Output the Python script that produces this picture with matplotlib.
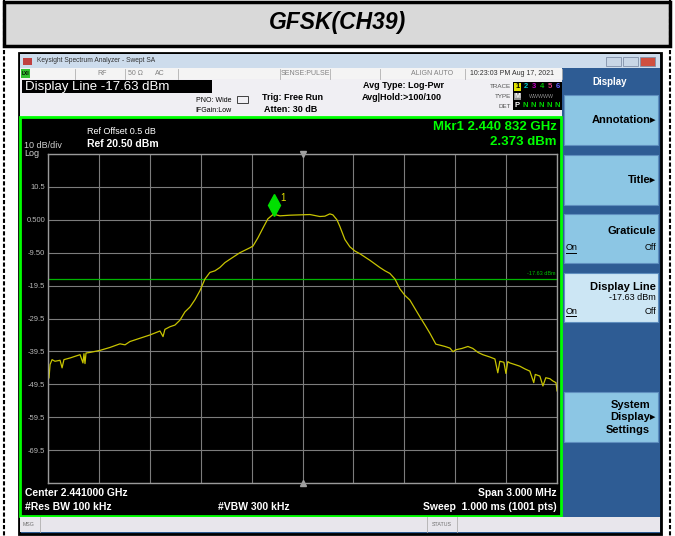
import matplotlib
matplotlib.use('Agg')
import matplotlib.pyplot as plt
from matplotlib.patches import Rectangle
from matplotlib.transforms import offset_copy

plt.rcParams['font.family'] = ['Liberation Sans', 'DejaVu Sans']

# trace (MHz, dBm)
freq_mhz = [2439.500, 2439.506, 2439.512, 2439.524, 2439.541, 2439.571, 2439.583, 2439.594,
            2439.630, 2439.659, 2439.689, 2439.706, 2439.712, 2439.718, 2439.724, 2439.748,
            2439.777, 2439.806, 2439.865, 2439.924, 2439.954, 2439.983, 2440.042, 2440.101,
            2440.160, 2440.178, 2440.189, 2440.219, 2440.248, 2440.278, 2440.307, 2440.337,
            2440.366, 2440.396, 2440.425, 2440.454, 2440.484, 2440.513, 2440.543, 2440.572,
            2440.631, 2440.690, 2440.708, 2440.737, 2440.767, 2440.796, 2440.832, 2440.845,
            2440.867, 2440.926, 2440.985, 2441.044, 2441.102, 2441.132, 2441.161, 2441.179,
            2441.203, 2441.220, 2441.250, 2441.279, 2441.309, 2441.338, 2441.397, 2441.456,
            2441.486, 2441.515, 2441.545, 2441.574, 2441.604, 2441.633, 2441.663, 2441.692,
            2441.722, 2441.751, 2441.786, 2441.810, 2441.840, 2441.869, 2441.887, 2441.904,
            2441.940, 2441.975, 2442.004, 2442.034, 2442.063, 2442.104, 2442.134, 2442.151,
            2442.163, 2442.187, 2442.199, 2442.210, 2442.222, 2442.252, 2442.281, 2442.310,
            2442.340, 2442.363, 2442.372, 2442.399, 2442.417, 2442.434, 2442.458, 2442.476,
            2442.494, 2442.500]
level_dbm = [-44.5, -47.6, -43.5, -42.0, -42.5, -42.2, -44.5, -42.0,
             -41.5, -41.0, -40.5, -43.0, -40.2, -43.2, -40.0, -39.8,
             -39.5, -39.2, -38.3, -37.2, -37.5, -36.5, -35.5, -34.5,
             -33.3, -35.0, -32.8, -32.0, -31.5, -30.0, -27.5, -26.0,
             -23.8, -21.0, -17.5, -15.5, -15.0, -14.0, -12.5, -11.5,
             -9.5, -8.0, -7.5, -5.0, -2.0, 0.8, 2.373, 2.0,
             1.7, 1.9, 2.0, 2.1, 1.5, 1.6, 2.3, 2.0,
             0.5, -1.5, -5.5, -7.7, -9.0, -9.8, -11.8, -14.0,
             -15.0, -15.8, -17.5, -20.5, -22.5, -23.9, -26.5, -29.0,
             -31.5, -34.0, -37.3, -37.6, -38.0, -38.5, -39.6, -39.0,
             -38.6, -38.0, -38.6, -39.8, -40.5, -41.2, -41.8, -46.0,
             -42.5, -42.8, -46.2, -42.6, -43.0, -43.5, -44.0, -44.8,
             -45.5, -49.0, -46.5, -47.0, -50.0, -47.5, -47.8, -48.5,
             -49.0, -51.5]

center_mhz = 2441.0
span_mhz = 3.0
ref_level = 20.5
db_per_div = 10
display_line = -17.63
mkr_freq = 2440.832
mkr_level = 2.373
y_tick_labels = ['', '10.5', '0.500', '-9.50', '-19.5', '-29.5', '-39.5', '-49.5', '-59.5', '-69.5', '']

W, H = 675, 536
fig = plt.figure(figsize=(W / 100, H / 100), dpi=100)
bg = fig.add_axes([0, 0, 1, 1])
bg.set_xlim(0, W)
bg.set_ylim(H, 0)
bg.axis('off')


def box(x0, y0, x1, y1, fc, ec='none', lw=0, z=1):
    bg.add_patch(Rectangle((x0, y0), x1 - x0, y1 - y0, facecolor=fc, edgecolor=ec, lw=lw, zorder=z))


def txt(x, y, s, size, color='black', ha='left', weight='normal', style='normal', z=5):
    bg.text(x, y, s, fontsize=size, color=color, ha=ha, va='center', fontweight=weight,
            fontstyle=style, zorder=z)


# page frame and title box
box(4, 2, 670, 46, '#d9d9d9', 'black', 2.5)
txt(337, 23, 'GFSK(CH39)', 16.5, ha='center', weight='bold', style='italic')
for xx in (4, 670):
    bg.plot([xx, xx], [0, H], color='black', lw=1.5, ls=(0, (2, 1)), zorder=2)

# analyzer window
box(19, 53, 661, 534, '#2e5c94', 'black', 2)
box(20, 54, 660, 68, '#cddcec', z=2)
box(23, 58, 32, 65, '#c04040', z=3)
txt(37, 61, 'Keysight Spectrum Analyzer - Swept SA', 4.8, '#303030')
for xx, c in ((606, '#c8d6e6'), (623, '#c8d6e6'), (640, '#d05040')):
    box(xx, 57, xx + 15, 66, c, '#8090a8', 0.6, z=3)

# status row
box(20, 68, 562, 79, '#f4f4f4', z=2)
box(21, 69, 30, 78, '#30c030', z=3)
txt(22, 73.5, 'LXI', 3.5, 'black', weight='bold')
for xx in (75, 125, 178, 280, 330, 380, 465, 562):
    bg.plot([xx, xx], [69, 79], color='#b0b0b0', lw=0.6, zorder=3)
txt(97, 73.5, 'RF', 5, '#808080')
txt(128, 73.5, '50 \u03a9', 5, '#808080')
txt(155, 73.5, 'AC', 5, '#808080')
txt(305, 73.5, 'SENSE:PULSE', 5, '#808080', ha='center')
txt(432, 73.5, 'ALIGN AUTO', 5, '#808080', ha='center')
txt(512, 73.5, '10:23:03 PM Aug 17, 2021', 5, '#303030', ha='center')

# info area
box(20, 79, 562, 117, '#f0eff3', z=2)
box(22, 80, 212, 93, 'black', z=3)
txt(25, 87, 'Display Line -17.63 dBm', 9.5, 'white')
txt(232, 100, 'PNO: Wide', 5, 'black', ha='right')
txt(232, 110, 'IFGain:Low', 5, 'black', ha='right')
box(237, 96, 248, 103, 'none', '#404040', 0.7, z=3)
txt(262, 98, 'Trig: Free Run', 6.5, 'black', weight='bold')
txt(264, 109, 'Atten: 30 dB', 6.5, 'black', weight='bold')
txt(363, 86, 'Avg Type: Log-Pwr', 6.5, 'black', weight='bold')
txt(362, 97, 'Avg|Hold:>100/100', 6.5, 'black', weight='bold')
txt(511, 87, 'TRACE', 4.5, '#505050', ha='right')
txt(511, 97, 'TYPE', 4.5, '#505050', ha='right')
txt(511, 106, 'DET', 4.5, '#505050', ha='right')
box(513, 82, 562, 110, 'black', z=3)
box(514, 83, 521, 91, '#e0e000', z=4)
for i, c in enumerate(['black', '#00c8c8', '#c000c0', '#00c000', '#e04080', '#6060ff']):
    txt(517.5 + 8 * i, 87, str(i + 1), 5.5, c, ha='center', weight='bold')
box(514, 93, 521, 100, '#909090', z=4)
txt(517.5, 96.5, 'M', 5, 'white', ha='center', weight='bold')
txt(541.5, 96.5, 'WWWWW', 3.8, '#909090', ha='center')
txt(517.5, 105.5, 'P', 5.5, 'white', ha='center', weight='bold')
for i in range(1, 6):
    txt(517.5 + 8 * i, 105.5, 'N', 5.5, '#00d000', ha='center', weight='bold')

# plot screen
box(20, 117, 561, 516, 'black', '#00ff00', 2, z=2)
txt(24, 145, '10 dB/div', 6.5, '#d0d0d0')
txt(24, 153, 'Log', 6.5, '#d0d0d0')
txt(87, 132, 'Ref Offset 0.5 dB', 6.5, 'white')
txt(87, 144, 'Ref 20.50 dBm', 7.5, 'white', weight='bold')
txt(557, 127, 'Mkr1 2.440 832 GHz', 9.5, '#00ff00', ha='right', weight='bold')
txt(557, 142, '2.373 dBm', 9.5, '#00ff00', ha='right', weight='bold')
txt(25, 493, 'Center 2.441000 GHz', 7.5, 'white', weight='bold')
txt(25, 507, '#Res BW 100 kHz', 7.5, 'white', weight='bold')
txt(218, 507, '#VBW 300 kHz', 7.5, 'white', weight='bold')
txt(557, 493, 'Span 3.000 MHz', 7.5, 'white', ha='right', weight='bold')
txt(557, 507, 'Sweep  1.000 ms (1001 pts)', 7.5, 'white', ha='right', weight='bold')

# message bar
box(20, 517, 660, 532, '#e8e6ec', z=2)
for xx in (40, 427, 457):
    bg.plot([xx, xx], [517, 532], color='#b0b0b0', lw=0.6, zorder=3)
txt(23, 524.5, 'MSG', 3.8, '#707070')
txt(442, 524.5, 'STATUS', 3.8, '#707070', ha='center')

# right soft-key panel
txt(610, 82, 'Display', 7, 'white', ha='center', weight='bold')
keys = [(95, 145, '#8cc6e4'), (155, 205, '#8cc6e4'), (214, 263, '#8cc6e4'),
        (273, 322, '#cce6f4'), (392, 442, '#8cc6e4')]
for y0, y1, c in keys:
    box(564, y0, 658, y1, c, '#5f8fbf', 0.8, z=2)
txt(656, 120, 'Annotation\u25b8', 8, 'black', ha='right', weight='bold')
txt(656, 180, 'Title\u25b8', 8, 'black', ha='right', weight='bold')
txt(656, 231, 'Graticule', 8, 'black', ha='right', weight='bold')
txt(566, 248, 'On', 6.5, 'black')
txt(656, 248, 'Off', 6.5, 'black', ha='right')
txt(656, 287, 'Display Line', 8, 'black', ha='right', weight='bold')
txt(656, 298, '-17.63 dBm', 6.5, 'black', ha='right')
txt(566, 311, 'On', 6.5, 'black')
txt(656, 311, 'Off', 6.5, 'black', ha='right')
for yy in (252.5, 315.5):
    bg.plot([566, 576], [yy, yy], color='black', lw=0.7, zorder=5)
txt(650, 405, 'System', 8, 'black', ha='right', weight='bold')
txt(656, 417, 'Display\u25b8', 8, 'black', ha='right', weight='bold')
txt(650, 430, 'Settings', 8, 'black', ha='right', weight='bold')

# graticule axes
gx0, gx1, gy0, gy1 = 48, 557, 154, 483
ax = fig.add_axes([gx0 / W, 1 - gy1 / H, (gx1 - gx0) / W, (gy1 - gy0) / H], zorder=3)
ax.set_facecolor('black')
f_lo = center_mhz - span_mhz / 2
f_hi = center_mhz + span_mhz / 2
y_lo = ref_level - 10 * db_per_div
ax.set_xlim(f_lo, f_hi)
ax.set_ylim(y_lo, ref_level)
ax.set_xticks([f_lo + span_mhz / 10 * i for i in range(11)])
yt = [ref_level - db_per_div * i for i in range(11)]
ax.set_yticks(yt)
ax.set_yticklabels(y_tick_labels)
ax.tick_params(axis='y', length=0, pad=2, labelsize=5.5, labelcolor='#b8b8b8')
ax.tick_params(axis='x', length=0, labelbottom=False)
ax.grid(True, color='#7c7c7c', lw=0.8)
for s in ax.spines.values():
    s.set_color('#9a9a9a')
    s.set_linewidth(1)

ax.axhline(display_line, color='#00b400', lw=0.9)
ax.text(f_hi - 0.01, display_line + 1, '-17.63 dBm', fontsize=4, color='#00c000', ha='right', va='bottom')
ax.plot(freq_mhz, level_dbm, color='#c8c400', lw=0.9)
ax.plot([center_mhz], [ref_level], marker='v', color='#a0a0a0', ms=5, clip_on=False)
ax.plot([center_mhz], [y_lo], marker='^', color='#a0a0a0', ms=5, clip_on=False)
mk_tr = offset_copy(ax.transData, fig=fig, x=0, y=9, units='dots')
ax.plot([mkr_freq], [mkr_level], marker='d', color='#00e000', ms=11, transform=mk_tr, clip_on=False)
mk_lab = offset_copy(ax.transData, fig=fig, x=6, y=16, units='dots')
ax.text(mkr_freq, mkr_level, '1', fontsize=7, color='#e0e000', transform=mk_lab, ha='left', va='center')

fig.savefig('out.png', dpi=100, facecolor='white')
